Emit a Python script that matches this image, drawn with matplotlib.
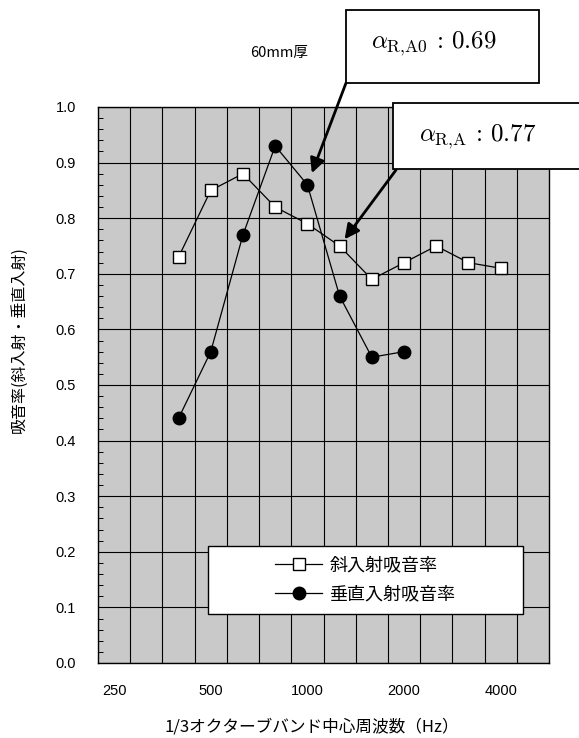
import numpy as np
import matplotlib.pyplot as plt
from matplotlib.patches import Rectangle

plt.rcParams['font.family'] = ['Liberation Sans', 'Noto Sans CJK JP']
plt.rcParams['mathtext.fontset'] = 'cm'
JP = ['Noto Sans CJK JP', 'DejaVu Sans']

# 1/3オクターブバンド
bands = ['250', '315', '400', '500', '630', '800', '1000', '1250',
         '1600', '2000', '2500', '3150', '4000', '5000']
labeled = ['250', '500', '1000', '2000', '4000']

# 斜入射吸音率 (400Hz - 4000Hz)
oblique_bands = ['400', '500', '630', '800', '1000', '1250', '1600',
                 '2000', '2500', '3150', '4000']
oblique = [0.73, 0.85, 0.88, 0.82, 0.79, 0.75, 0.69, 0.72, 0.75, 0.72, 0.71]

# 垂直入射吸音率 (400Hz - 2000Hz)
normal_bands = ['400', '500', '630', '800', '1000', '1250', '1600', '2000']
normal = [0.44, 0.56, 0.77, 0.93, 0.86, 0.66, 0.55, 0.56]

W, H = 579, 738
fig = plt.figure(figsize=(W / 100, H / 100), dpi=100)


def fx(px):
    return px / W


def fy(py):
    return 1 - py / H


ax = fig.add_axes([fx(98), fy(663), fx(549) - fx(98), fy(107) - fy(663)])
ax.set_facecolor('#c9c9c9')

idx = {b: i for i, b in enumerate(bands)}
xo = [idx[b] for b in oblique_bands]
xn = [idx[b] for b in normal_bands]

ax.plot(xo, oblique, color='black', lw=0.9, marker='s', ms=8.5,
        mfc='white', mec='black', mew=1.0, label='斜入射吸音率', zorder=4)
ax.plot(xn, normal, color='black', lw=0.9, marker='o', ms=9,
        mfc='black', mec='black', label='垂直入射吸音率', zorder=4)

ax.set_xlim(-0.5, len(bands) - 0.5)
ax.set_ylim(0, 1.0)

ax.set_xticks([idx[b] for b in labeled])
ax.set_xticklabels(labeled)
ax.set_xticks(np.arange(0.5, len(bands) - 0.5, 1), minor=True)
ax.set_yticks(np.arange(0, 1.01, 0.1))
ax.set_yticklabels([f'{v:.1f}' for v in np.arange(0, 1.01, 0.1)])
ax.set_yticks(np.arange(0, 1.001, 0.02), minor=True)

ax.tick_params(axis='x', which='both', length=0, pad=15, labelsize=10.5)
ax.tick_params(axis='y', which='major', length=0, pad=16, labelsize=10.5)
ax.tick_params(axis='y', which='minor', direction='in', length=3.5, width=0.7)

ax.grid(axis='y', which='major', color='black', lw=0.8)
ax.grid(axis='x', which='minor', color='black', lw=0.8)
ax.set_axisbelow(True)
for s in ax.spines.values():
    s.set_color('black')
    s.set_linewidth(1.0)

# 凡例
ax.add_patch(Rectangle((0.244, 0.088), 0.698, 0.122, transform=ax.transAxes,
                       facecolor='white', edgecolor='black', lw=1.0, zorder=5))
leg = ax.legend(loc='center', bbox_to_anchor=(0.593, 0.149), frameon=False,
                prop={'family': JP, 'size': 13}, handlelength=2.6,
                handletextpad=0.4, labelspacing=0.6)
leg.set_zorder(6)

fig.text(fx(19), fy(340), '吸音率(斜入射・垂直入射)', rotation=90,
         ha='center', va='center', fontsize=11.5, family=JP)
fig.text(fx(312), fy(727), '1/3オクターブバンド中心周波数（Hz）',
         ha='center', va='center', fontsize=12, family=JP)
fig.text(fx(279), fy(53), '60mm厚', ha='center', va='center', fontsize=10.5,
         family=JP)

# 注記ボックス
fig.patches.append(Rectangle((fx(346), fy(83)), fx(539) - fx(346), fy(10) - fy(83),
                             transform=fig.transFigure, facecolor='white',
                             edgecolor='black', lw=1.3, zorder=7))
fig.patches.append(Rectangle((fx(393), fy(169)), fx(585) - fx(393), fy(103) - fy(169),
                             transform=fig.transFigure, facecolor='white',
                             edgecolor='black', lw=1.3, zorder=7))
fig.text(fx(371), fy(44), r'$\alpha_{\mathrm{R{,}A0}}\,:\,0.69$', ha='left',
         va='center', fontsize=18, zorder=8)
fig.text(fx(419), fy(137), r'$\alpha_{\mathrm{R{,}A}}\,:\,0.77$', ha='left',
         va='center', fontsize=18, zorder=8)

ax.annotate('', xy=(idx['1000'], normal[normal_bands.index('1000')]),
            xycoords='data', xytext=(fx(346), fy(83)), textcoords='figure fraction',
            arrowprops=dict(arrowstyle='-|>', color='black', lw=2.0,
                            mutation_scale=22, shrinkA=0, shrinkB=9),
            zorder=6, annotation_clip=False)
ax.annotate('', xy=(idx['1250'], oblique[oblique_bands.index('1250')]),
            xycoords='data', xytext=(fx(396), fy(170)), textcoords='figure fraction',
            arrowprops=dict(arrowstyle='-|>', color='black', lw=2.0,
                            mutation_scale=22, shrinkA=0, shrinkB=6),
            zorder=6, annotation_clip=False)

fig.savefig('out.png', dpi=100, facecolor='white')
